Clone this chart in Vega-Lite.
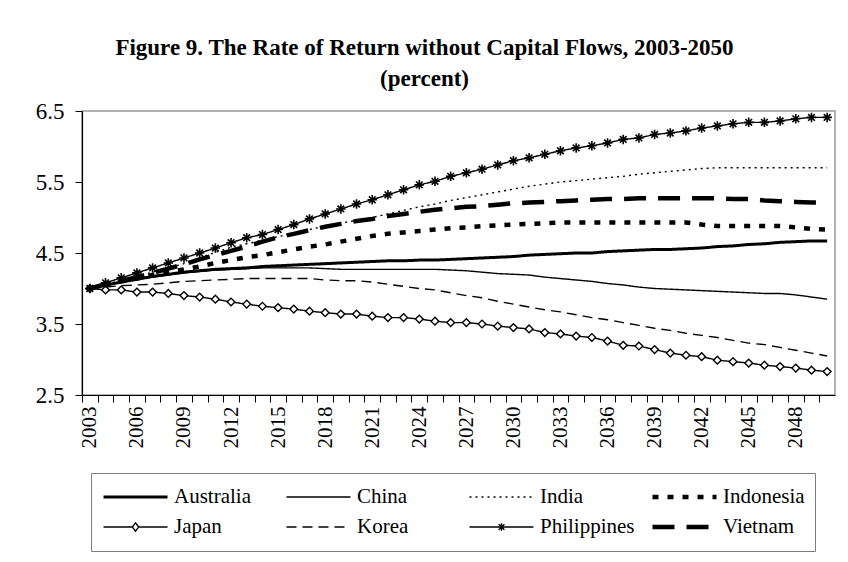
{
  "$schema": "https://vega.github.io/schema/vega-lite/v6.json",
  "width": 753,
  "height": 284,
  "autosize": {"type": "none"},
  "padding": {"left": 82, "top": 111, "right": 13, "bottom": 167},
  "background": "white",
  "title": {
    "text": ["Figure 9. The Rate of Return without Capital Flows, 2003-2050", "(percent)"],
    "font": "Liberation Serif",
    "fontSize": 23,
    "fontWeight": "bold",
    "color": "black",
    "lineHeight": 31,
    "anchor": "middle",
    "frame": "group",
    "dx": -34,
    "offset": 9
  },
  "data": {
    "values": [
      {"year": 2003, "Australia": 4.00, "China": 4.00, "India": 4.00, "Indonesia": 4.00, "Japan": 4.00, "Korea": 4.00, "Philippines": 4.00, "Vietnam": 4.00},
      {"year": 2004, "Australia": 4.05, "China": 4.05, "India": 4.06, "Indonesia": 4.05, "Japan": 3.98, "Korea": 4.02, "Philippines": 4.08, "Vietnam": 4.06},
      {"year": 2005, "Australia": 4.09, "China": 4.09, "India": 4.11, "Indonesia": 4.10, "Japan": 3.98, "Korea": 4.04, "Philippines": 4.15, "Vietnam": 4.11},
      {"year": 2006, "Australia": 4.13, "China": 4.13, "India": 4.17, "Indonesia": 4.14, "Japan": 3.95, "Korea": 4.05, "Philippines": 4.22, "Vietnam": 4.16},
      {"year": 2007, "Australia": 4.17, "China": 4.16, "India": 4.23, "Indonesia": 4.19, "Japan": 3.95, "Korea": 4.06, "Philippines": 4.29, "Vietnam": 4.22},
      {"year": 2008, "Australia": 4.20, "China": 4.19, "India": 4.29, "Indonesia": 4.23, "Japan": 3.93, "Korea": 4.08, "Philippines": 4.36, "Vietnam": 4.28},
      {"year": 2009, "Australia": 4.23, "China": 4.22, "India": 4.35, "Indonesia": 4.27, "Japan": 3.90, "Korea": 4.10, "Philippines": 4.43, "Vietnam": 4.34},
      {"year": 2010, "Australia": 4.25, "China": 4.24, "India": 4.43, "Indonesia": 4.31, "Japan": 3.88, "Korea": 4.11, "Philippines": 4.50, "Vietnam": 4.41},
      {"year": 2011, "Australia": 4.27, "China": 4.26, "India": 4.51, "Indonesia": 4.36, "Japan": 3.85, "Korea": 4.12, "Philippines": 4.57, "Vietnam": 4.47},
      {"year": 2012, "Australia": 4.28, "China": 4.27, "India": 4.58, "Indonesia": 4.40, "Japan": 3.81, "Korea": 4.13, "Philippines": 4.645, "Vietnam": 4.53},
      {"year": 2013, "Australia": 4.29, "China": 4.28, "India": 4.63, "Indonesia": 4.44, "Japan": 3.78, "Korea": 4.14, "Philippines": 4.715, "Vietnam": 4.59},
      {"year": 2014, "Australia": 4.31, "China": 4.29, "India": 4.68, "Indonesia": 4.47, "Japan": 3.75, "Korea": 4.14, "Philippines": 4.76, "Vietnam": 4.66},
      {"year": 2015, "Australia": 4.32, "China": 4.29, "India": 4.73, "Indonesia": 4.51, "Japan": 3.73, "Korea": 4.14, "Philippines": 4.83, "Vietnam": 4.72},
      {"year": 2016, "Australia": 4.33, "China": 4.29, "India": 4.78, "Indonesia": 4.55, "Japan": 3.71, "Korea": 4.14, "Philippines": 4.90, "Vietnam": 4.77},
      {"year": 2017, "Australia": 4.34, "China": 4.29, "India": 4.83, "Indonesia": 4.59, "Japan": 3.68, "Korea": 4.14, "Philippines": 4.98, "Vietnam": 4.82},
      {"year": 2018, "Australia": 4.35, "China": 4.28, "India": 4.88, "Indonesia": 4.62, "Japan": 3.66, "Korea": 4.12, "Philippines": 5.05, "Vietnam": 4.87},
      {"year": 2019, "Australia": 4.36, "China": 4.27, "India": 4.92, "Indonesia": 4.66, "Japan": 3.64, "Korea": 4.11, "Philippines": 5.12, "Vietnam": 4.91},
      {"year": 2020, "Australia": 4.37, "China": 4.27, "India": 4.96, "Indonesia": 4.70, "Japan": 3.64, "Korea": 4.11, "Philippines": 5.19, "Vietnam": 4.95},
      {"year": 2021, "Australia": 4.38, "China": 4.27, "India": 5.00, "Indonesia": 4.74, "Japan": 3.61, "Korea": 4.09, "Philippines": 5.25, "Vietnam": 4.98},
      {"year": 2022, "Australia": 4.39, "China": 4.27, "India": 5.05, "Indonesia": 4.77, "Japan": 3.59, "Korea": 4.06, "Philippines": 5.32, "Vietnam": 5.02},
      {"year": 2023, "Australia": 4.39, "China": 4.27, "India": 5.10, "Indonesia": 4.79, "Japan": 3.59, "Korea": 4.03, "Philippines": 5.39, "Vietnam": 5.05},
      {"year": 2024, "Australia": 4.40, "China": 4.27, "India": 5.15, "Indonesia": 4.81, "Japan": 3.57, "Korea": 4.00, "Philippines": 5.46, "Vietnam": 5.08},
      {"year": 2025, "Australia": 4.40, "China": 4.27, "India": 5.19, "Indonesia": 4.83, "Japan": 3.54, "Korea": 3.98, "Philippines": 5.51, "Vietnam": 5.11},
      {"year": 2026, "Australia": 4.41, "China": 4.26, "India": 5.24, "Indonesia": 4.85, "Japan": 3.52, "Korea": 3.94, "Philippines": 5.58, "Vietnam": 5.13},
      {"year": 2027, "Australia": 4.42, "China": 4.25, "India": 5.28, "Indonesia": 4.86, "Japan": 3.52, "Korea": 3.90, "Philippines": 5.63, "Vietnam": 5.15},
      {"year": 2028, "Australia": 4.43, "China": 4.23, "India": 5.32, "Indonesia": 4.88, "Japan": 3.50, "Korea": 3.87, "Philippines": 5.68, "Vietnam": 5.16},
      {"year": 2029, "Australia": 4.44, "China": 4.21, "India": 5.36, "Indonesia": 4.89, "Japan": 3.47, "Korea": 3.82, "Philippines": 5.74, "Vietnam": 5.18},
      {"year": 2030, "Australia": 4.45, "China": 4.20, "India": 5.40, "Indonesia": 4.90, "Japan": 3.45, "Korea": 3.78, "Philippines": 5.80, "Vietnam": 5.20},
      {"year": 2031, "Australia": 4.47, "China": 4.19, "India": 5.44, "Indonesia": 4.91, "Japan": 3.43, "Korea": 3.74, "Philippines": 5.84, "Vietnam": 5.21},
      {"year": 2032, "Australia": 4.48, "China": 4.16, "India": 5.47, "Indonesia": 4.92, "Japan": 3.38, "Korea": 3.70, "Philippines": 5.89, "Vietnam": 5.22},
      {"year": 2033, "Australia": 4.49, "China": 4.14, "India": 5.50, "Indonesia": 4.93, "Japan": 3.36, "Korea": 3.67, "Philippines": 5.94, "Vietnam": 5.23},
      {"year": 2034, "Australia": 4.50, "China": 4.12, "India": 5.52, "Indonesia": 4.93, "Japan": 3.33, "Korea": 3.63, "Philippines": 5.98, "Vietnam": 5.24},
      {"year": 2035, "Australia": 4.50, "China": 4.10, "India": 5.54, "Indonesia": 4.93, "Japan": 3.31, "Korea": 3.59, "Philippines": 6.01, "Vietnam": 5.25},
      {"year": 2036, "Australia": 4.52, "China": 4.07, "India": 5.56, "Indonesia": 4.93, "Japan": 3.26, "Korea": 3.56, "Philippines": 6.05, "Vietnam": 5.26},
      {"year": 2037, "Australia": 4.53, "China": 4.05, "India": 5.58, "Indonesia": 4.93, "Japan": 3.20, "Korea": 3.52, "Philippines": 6.10, "Vietnam": 5.26},
      {"year": 2038, "Australia": 4.54, "China": 4.02, "India": 5.61, "Indonesia": 4.93, "Japan": 3.19, "Korea": 3.48, "Philippines": 6.12, "Vietnam": 5.27},
      {"year": 2039, "Australia": 4.55, "China": 4.00, "India": 5.63, "Indonesia": 4.93, "Japan": 3.14, "Korea": 3.44, "Philippines": 6.17, "Vietnam": 5.27},
      {"year": 2040, "Australia": 4.55, "China": 3.99, "India": 5.65, "Indonesia": 4.93, "Japan": 3.09, "Korea": 3.41, "Philippines": 6.19, "Vietnam": 5.27},
      {"year": 2041, "Australia": 4.56, "China": 3.98, "India": 5.67, "Indonesia": 4.93, "Japan": 3.06, "Korea": 3.37, "Philippines": 6.22, "Vietnam": 5.27},
      {"year": 2042, "Australia": 4.57, "China": 3.97, "India": 5.69, "Indonesia": 4.90, "Japan": 3.04, "Korea": 3.34, "Philippines": 6.26, "Vietnam": 5.27},
      {"year": 2043, "Australia": 4.59, "China": 3.96, "India": 5.70, "Indonesia": 4.88, "Japan": 2.99, "Korea": 3.31, "Philippines": 6.29, "Vietnam": 5.27},
      {"year": 2044, "Australia": 4.60, "China": 3.95, "India": 5.70, "Indonesia": 4.88, "Japan": 2.97, "Korea": 3.27, "Philippines": 6.32, "Vietnam": 5.26},
      {"year": 2045, "Australia": 4.62, "China": 3.94, "India": 5.70, "Indonesia": 4.88, "Japan": 2.95, "Korea": 3.23, "Philippines": 6.34, "Vietnam": 5.26},
      {"year": 2046, "Australia": 4.63, "China": 3.93, "India": 5.70, "Indonesia": 4.88, "Japan": 2.92, "Korea": 3.21, "Philippines": 6.34, "Vietnam": 5.24},
      {"year": 2047, "Australia": 4.65, "China": 3.93, "India": 5.70, "Indonesia": 4.88, "Japan": 2.90, "Korea": 3.17, "Philippines": 6.36, "Vietnam": 5.23},
      {"year": 2048, "Australia": 4.66, "China": 3.91, "India": 5.70, "Indonesia": 4.86, "Japan": 2.88, "Korea": 3.13, "Philippines": 6.39, "Vietnam": 5.22},
      {"year": 2049, "Australia": 4.67, "China": 3.88, "India": 5.70, "Indonesia": 4.84, "Japan": 2.85, "Korea": 3.09, "Philippines": 6.41, "Vietnam": 5.21},
      {"year": 2050, "Australia": 4.67, "China": 3.85, "India": 5.70, "Indonesia": 4.83, "Japan": 2.83, "Korea": 3.05, "Philippines": 6.41, "Vietnam": 5.21}
    ]
  },
  "transform": [
    {"fold": ["Australia", "China", "India", "Indonesia", "Japan", "Korea", "Philippines", "Vietnam"], "as": ["country", "value"]}
  ],
  "encoding": {
    "x": {
      "field": "year",
      "type": "quantitative",
      "scale": {"domain": [2002.5, 2050.5], "nice": false, "zero": false},
      "axis": {
        "title": null,
        "values": [2003, 2004, 2005, 2006, 2007, 2008, 2009, 2010, 2011, 2012, 2013, 2014, 2015, 2016, 2017, 2018, 2019, 2020, 2021, 2022, 2023, 2024, 2025, 2026, 2027, 2028, 2029, 2030, 2031, 2032, 2033, 2034, 2035, 2036, 2037, 2038, 2039, 2040, 2041, 2042, 2043, 2044, 2045, 2046, 2047, 2048, 2049, 2050, 2051],
        "labelExpr": "(datum.value <= 2048 && (datum.value - 2003) % 3 == 0) ? format(datum.value, 'd') : ''",
        "tickOffset": -7.84,
        "labelOffset": 7.84,
        "labelAngle": -90,
        "labelAlign": "right",
        "labelBaseline": "middle",
        "labelPadding": 4,
        "labelOverlap": false,
        "labelBound": false,
        "labelFlush": false,
        "grid": false,
        "tickSize": 7,
        "domainColor": "black",
        "tickColor": "black",
        "domainWidth": 1.2,
        "tickWidth": 1,
        "labelFont": "Liberation Serif",
        "labelFontSize": 21,
        "labelColor": "black"
      }
    },
    "y": {
      "field": "value",
      "type": "quantitative",
      "scale": {"domain": [2.5, 6.5], "nice": false, "zero": false},
      "axis": {
        "title": null,
        "values": [2.5, 3.5, 4.5, 5.5, 6.5],
        "format": ".1f",
        "grid": false,
        "tickSize": 7,
        "labelPadding": 11,
        "domainColor": "black",
        "tickColor": "black",
        "domainWidth": 1.2,
        "labelFont": "Liberation Serif",
        "labelFontSize": 23,
        "labelColor": "black"
      }
    }
  },
  "layer": [
    {
      "mark": {"type": "line", "color": "black", "strokeCap": "butt", "strokeJoin": "round"},
      "encoding": {
        "detail": {"field": "country", "type": "nominal"},
        "strokeDash": {
          "condition": [
            {"test": "datum.country === 'India'", "value": [2, 4]},
            {"test": "datum.country === 'Indonesia'", "value": [6, 9]},
            {"test": "datum.country === 'Korea'", "value": [10, 6]},
            {"test": "datum.country === 'Vietnam'", "value": [22, 12]}
          ],
          "value": [1, 0]
        },
        "strokeWidth": {
          "condition": [
            {"test": "datum.country === 'Australia'", "value": 3},
            {"test": "datum.country === 'Indonesia' || datum.country === 'Vietnam'", "value": 4.5}
          ],
          "value": 1.4
        }
      }
    },
    {
      "transform": [{"filter": "datum.country === 'Japan'"}],
      "mark": {"type": "point", "shape": "diamond", "filled": true, "fill": "white", "stroke": "black", "strokeWidth": 1.4, "size": 60, "opacity": 1}
    },
    {
      "transform": [{"filter": "datum.country === 'Philippines'"}],
      "mark": {"type": "point", "shape": "M-1,0L1,0M0,-1L0,1M-0.7,-0.7L0.7,0.7M-0.7,0.7L0.7,-0.7", "filled": false, "stroke": "black", "strokeWidth": 1.6, "size": 90, "opacity": 1}
    },
    {
      "mark": {"type": "point", "opacity": 0, "filled": false, "stroke": "black"},
      "encoding": {
        "strokeDash": {
          "field": "country",
          "type": "nominal",
          "scale": {
            "type": "ordinal",
            "domain": ["Australia", "China", "India", "Indonesia", "Japan", "Korea", "Philippines", "Vietnam"],
            "range": [[1, 0], [1, 0], [2, 4], [6, 9], [1, 0], [10, 6], [1, 0], [22, 12]]
          },
          "legend": {"title": null}
        },
        "strokeWidth": {
          "field": "country",
          "type": "nominal",
          "scale": {
            "type": "ordinal",
            "domain": ["Australia", "China", "India", "Indonesia", "Japan", "Korea", "Philippines", "Vietnam"],
            "range": [3, 1.4, 1.4, 4.5, 1.4, 1.4, 1.4, 4.5]
          },
          "legend": {"title": null}
        },
        "shape": {
          "field": "country",
          "type": "nominal",
          "scale": {
            "domain": ["Australia", "China", "India", "Indonesia", "Japan", "Korea", "Philippines", "Vietnam"],
            "range": [
              "M-1,0L1,0",
              "M-1,0L1,0",
              "M-1,0L1,0",
              "M-1,0L1,0",
              "M-1,0L-0.1,0M0.1,0L1,0M0,-0.13L0.1,0L0,0.13L-0.1,0Z",
              "M-1,0L1,0",
              "M-1,0L1,0M0,-0.12L0,0.12M-0.09,-0.09L0.09,0.09M-0.09,0.09L0.09,-0.09",
              "M-1,0L1,0"
            ]
          },
          "legend": {
            "title": null,
            "orient": "none",
            "legendX": 9,
            "legendY": 362,
            "columns": 4,
            "direction": "horizontal",
            "gridAlign": "all",
            "columnPadding": 15,
            "rowPadding": 2,
            "clipHeight": 28,
            "symbolSize": 4096,
            "symbolOpacity": 1,
            "symbolStrokeColor": "black",
            "symbolFillColor": "transparent",
            "symbolOffset": 0,
            "labelOffset": 4,
            "labelFont": "Liberation Serif",
            "labelFontSize": 21,
            "labelColor": "black",
            "labelLimit": 300,
            "strokeColor": "#7f7f7f",
            "padding": 10
          }
        }
      }
    }
  ],
  "config": {
    "view": {"stroke": "#999999", "strokeWidth": 1.5},
    "font": "Liberation Serif"
  }
}
